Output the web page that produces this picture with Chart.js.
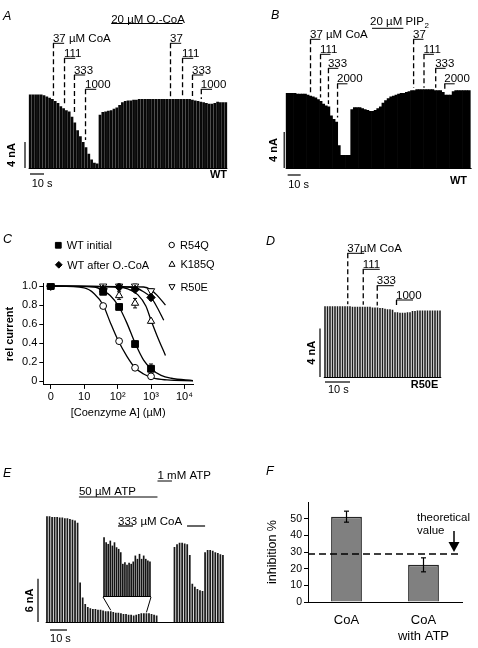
<!DOCTYPE html>
<html>
<head>
<meta charset="utf-8">
<title>CoA inhibition of KATP currents</title>
<script src="https://cdn.jsdelivr.net/npm/chart.js@4.4.1/dist/chart.umd.min.js"></script>
<style>
  body { margin: 0; background: #fff; }
  #fig { position: relative; width: 478px; height: 648px; overflow: hidden; background: #fff; }
  #fig canvas { position: absolute; left: 0; top: 0; }
</style>
</head>
<body>
<div id="fig">
  <canvas id="chartA" width="478" height="648"></canvas>
  <canvas id="chartB" width="478" height="648"></canvas>
  <canvas id="chartC" width="478" height="648"></canvas>
  <canvas id="chartD" width="478" height="648"></canvas>
  <canvas id="chartE" width="478" height="648"></canvas>
  <canvas id="chartEInset" width="478" height="648"></canvas>
  <canvas id="chartF" width="478" height="648"></canvas>
</div>
<script>
// ---------- data ----------

// A: WT, CoA doses before and during 20 µM O.-CoA (nA per sweep)
const sweepA = 2; // s between sweeps
const currentA = [11.3, 11.3, 11.3, 11.3, 11.3, 11.2, 11.0, 10.8, 10.6, 10.3,
  10.0, 9.5, 9.2, 8.9, 8.7, 7.9, 7.0, 5.8, 4.9, 4.0,
  3.2, 2.2, 1.3, 0.8, 0.7, 8.2, 8.6, 8.7, 8.8, 8.9,
  9.1, 9.3, 9.7, 10.1, 10.3, 10.4, 10.4, 10.5, 10.5, 10.6,
  10.6, 10.6, 10.6, 10.6, 10.6, 10.6, 10.6, 10.6, 10.6, 10.6,
  10.6, 10.6, 10.6, 10.6, 10.6, 10.6, 10.6, 10.6, 10.5, 10.4,
  10.3, 10.2, 10.1, 10.0, 9.9, 9.9, 10.0, 10.2, 10.1, 10.1, 10.1];
const doseLabelsA = ["37 µM CoA", "111", "333", "1000", "37", "111", "333", "1000"];
const doseTimesA = [16.4, 24.3, 31.4, 39.3, 100, 108.6, 115.7, 122];
const doseLenA = 8;
const oCoaTimesA = [58, 109];

// B: WT, CoA doses before and after 20 µM PIP2
const sweepB = 2;
const currentB = [8.3, 8.3, 8.3, 8.3, 8.2, 8.2, 8.2, 8.2, 8.1, 8.0,
  7.9, 7.8, 7.6, 7.4, 7.1, 6.9, 6.8, 5.8, 5.4, 5.1,
  2.5, 1.4, 1.4, 1.4, 1.4, 6.5, 6.7, 6.7, 6.7, 6.6,
  6.5, 6.4, 6.3, 6.3, 6.4, 6.6, 6.8, 7.2, 7.5, 7.7,
  7.9, 8.0, 8.1, 8.2, 8.3, 8.3, 8.4, 8.5, 8.6, 8.6,
  8.7, 8.7, 8.7, 8.7, 8.7, 8.7, 8.7, 8.6, 8.6, 8.6,
  8.4, 8.1, 8.1, 8.1, 8.5, 8.6, 8.6, 8.6, 8.6, 8.6, 8.6];
const doseLabelsB = ["37 µM CoA", "111", "333", "2000", "37", "111", "333", "2000"];
const doseTimesB = [17.7, 25.4, 31.5, 38.5, 97, 105, 114, 121];
const doseLenB = 8;
const pipTimesB = [65.4, 89.5];

// C: dose-response, "0" CoA is plotted on the "0" tick (1 on the log axis)
const concC = [1, 37, 111, 333, 1000];
const seriesNamesC = ["WT initial", "WT after O.-CoA", "R54Q", "K185Q", "R50E"];
const wtInitialC = [1.0, 0.94, 0.78, 0.39, 0.13];
const wtInitialErrC = [0, 0.02, 0.02, 0.03, 0.05];
const wtAfterC = [1.0, 0.97, 0.99, 0.965, 0.88];
const wtAfterErrC = [0, 0.02, 0.03, 0.02, 0.03];
const r54qC = [1.0, 0.79, 0.42, 0.14, 0.05];
const r54qErrC = [0, 0.01, 0.02, 0.02, 0.02];
const k185qC = [1.0, 0.96, 0.90, 0.82, 0.63];
const k185qErrC = [0, 0.02, 0.04, 0.05, 0.02];
const r50eC = [1.0, 1.0, 1.0, 1.0, 0.95];
const r50eErrC = [0, 0.01, 0.01, 0.02, 0.02];
// fitted curves
const fitWtInitialConc = [1, 20, 37, 60, 111, 190, 333, 600, 1000, 2000, 4000, 18000];
const fitWtInitialVal = [1.0, 0.99, 0.95, 0.90, 0.78, 0.61, 0.40, 0.22, 0.13, 0.06, 0.03, 0.005];
const fitR54QConc = [1, 10, 20, 37, 60, 100, 190, 333, 600, 1200, 3000, 18000];
const fitR54QVal = [1.0, 0.98, 0.92, 0.80, 0.62, 0.44, 0.26, 0.14, 0.075, 0.03, 0.012, 0.002];
const fitK185QConc = [1, 100, 200, 400, 700, 1000, 1500, 2700];
const fitK185QVal = [1.0, 0.99, 0.97, 0.91, 0.79, 0.64, 0.48, 0.27];
const fitWtAfterConc = [1, 300, 600, 1000, 1500, 2400];
const fitWtAfterVal = [1.0, 0.985, 0.94, 0.88, 0.78, 0.64];
const fitR50EConc = [1, 600, 1000, 1500, 2700];
const fitR50EVal = [1.0, 0.99, 0.96, 0.905, 0.80];
const xTickValsC = [1, 10, 100, 1000, 10000];
const xTickLabelsC = ["0", "10", "10²", "10³", "10⁴"];
const yTickValsC = [0, 0.2, 0.4, 0.6, 0.8, 1.0];
const yTickLabelsC = ["0", "0.2", "0.4", "0.6", "0.8", "1.0"];

// D: R50E
const sweepD = 1;
const currentD = [5.85, 5.85, 5.85, 5.85, 5.85, 5.85, 5.85, 5.85, 5.85, 5.85,
  5.85, 5.8, 5.8, 5.8, 5.8, 5.8, 5.8, 5.8, 5.8, 5.75,
  5.75, 5.75, 5.7, 5.7, 5.65, 5.6, 5.6, 5.55, 5.35, 5.35,
  5.3, 5.3, 5.3, 5.35, 5.35, 5.45, 5.45, 5.5, 5.5, 5.5,
  5.5, 5.5, 5.5, 5.5, 5.5, 5.5, 5.5];
const doseLabelsD = ["37µM CoA", "111", "333", "1000"];
const doseTimesD = [8.9, 15.1, 20.7, 28.4];
const doseLenD = 6.8;

// E: ATP then CoA
const sweepE = 1.5;
const currentE = [14.7, 14.7, 14.6, 14.6, 14.6, 14.5, 14.5, 14.4, 14.4, 14.3,
  14.2, 14.1, 13.8, 5.5, 3.4, 2.5, 2.1, 1.9, 1.8, 1.8,
  1.7, 1.7, 1.6, 1.5, 1.5, 1.5, 1.4, 1.3, 1.3, 1.2,
  1.1, 1.1, 1.0, 1.0, 0.9, 1.0, 1.1, 1.2, 1.2, 1.2,
  1.2, 1.1, 1.0, 0.9, 0, 0, 0, 0, 0, 0,
  10.4, 10.8, 11.0, 11.0, 10.9, 10.8, 9.3, 5.3, 4.9, 4.6,
  4.4, 4.3, 9.7, 10.0, 10.0, 9.9, 9.7, 9.6, 9.4, 9.3];
const atpLabelsE = ["50 µM ATP", "1 mM ATP"];
const atpStartE = [18.8, 65];
const atpEndE = [65, 73.5];
const coaStartE = [41.8, 82.4];
const coaEndE = [50.6, 93];
// magnified inset of the sweeps in ATP (arbitrary gain)
const insetStartE = 30;
const insetE = [1.77, 1.62, 1.57, 1.67, 1.52, 1.62, 1.47, 1.42, 1.32, 0.97,
  1.02, 0.94, 1.00, 0.97, 1.04, 1.22, 1.12, 1.27, 1.12, 1.22,
  1.12, 1.07, 1.04];
const insetLinkTimesE = [37.5, 58.5];

// F: inhibition %
const groupsF = [["CoA"], ["CoA", "with ATP"]];
const inhibitionF = [51.2, 22.3];
const inhibitionErrF = [3.3, 4.2];
const theoreticalF = 28.8;
const ticksF = [0, 10, 20, 30, 40, 50];

// ---------- helpers ----------
const FONT = '"Liberation Sans", Arial, Helvetica, sans-serif';
Chart.defaults.font.family = FONT;
Chart.defaults.font.size = 11;
Chart.defaults.color = '#000';

function font(size, weight, style) {
  return (style || '') + ' ' + (weight || '') + ' ' + size + 'px ' + FONT;
}

// padding that puts the chart area at page coords
function pad(left, top, right, bottom) {
  return { left: left, top: top, right: 478 - right, bottom: 648 - bottom };
}

function seg(ctx, x0, y0, x1, y1, dash, width) {
  ctx.save();
  ctx.setLineDash(dash || []);
  ctx.lineWidth = width || 1;
  ctx.strokeStyle = '#000';
  ctx.beginPath();
  ctx.moveTo(x0, y0);
  ctx.lineTo(x1, y1);
  ctx.stroke();
  ctx.restore();
}

function label(ctx, s, x, y, size, opts) {
  opts = opts || {};
  ctx.save();
  ctx.font = font(size, opts.weight, opts.style);
  ctx.fillStyle = '#000';
  ctx.textAlign = opts.align || 'left';
  ctx.textBaseline = opts.baseline || 'alphabetic';
  if (opts.rotate) {
    ctx.translate(x, y);
    ctx.rotate(opts.rotate);
    ctx.fillText(s, 0, 0);
  } else {
    ctx.fillText(s, x, y);
  }
  ctx.restore();
}

// baseline, scale bars and cell name of a current trace
function drawFrame(chart, f) {
  const { ctx, chartArea: a, scales: { x, y } } = chart;
  const y0 = y.getPixelForValue(0);
  seg(ctx, a.left, y0 + 0.5, a.right, y0 + 0.5, null, 1.2);
  const vx = a.left + f.vbarDx;
  const yTop = y.getPixelForValue(f.nA);
  seg(ctx, vx, y0, vx, yTop, null, 1.2);
  label(ctx, f.nA + ' nA', vx + f.nALabelDx, (y0 + yTop) / 2, 11,
    { rotate: -Math.PI / 2, align: 'center', baseline: 'middle', weight: 'bold' });
  const hx0 = x.getPixelForValue(f.hbarT);
  const hx1 = x.getPixelForValue(f.hbarT + 10);
  seg(ctx, hx0, y0 + f.hbarDy, hx1, y0 + f.hbarDy, null, 1.2);
  label(ctx, '10 s', hx0 + f.sLabelDx, y0 + f.sLabelDy, 11);
  if (f.name) label(ctx, f.name, a.right + f.nameDx, y0 + f.nameDy, 11, { align: 'right', weight: 'bold' });
}

// dose labels: short application bar + dashed drop to the trace
function drawDoses(chart, labels, times, levels, len, values, dt) {
  const { ctx, scales: { x, y } } = chart;
  labels.forEach((lab, i) => {
    const x0 = x.getPixelForValue(times[i]);
    const x1 = x.getPixelForValue(times[i] + len);
    const ly = levels[i % levels.length];
    seg(ctx, x0, ly, x1, ly, null, 1);
    label(ctx, lab, x0, ly - 1.5, 11.5);
    const k = Math.round(times[i] / dt);
    const top = Math.max(values[k - 1] || 0, values[k] || 0, values[k + 1] || 0);
    const yb = y.getPixelForValue(top) - 2;
    if (yb > ly + 3) seg(ctx, x0 + 0.5, ly, x0 + 0.5, yb, [5, 3], 1.3);
  });
}

function traceChart(id, o) {
  return new Chart(document.getElementById(id), {
    type: 'bar',
    data: {
      datasets: [{
        data: o.values.map((v, i) => ({ x: (o.t0 || 0) + i * o.dt, y: v })),
        backgroundColor: o.color,
        borderWidth: 0,
        barPercentage: o.barPct,
        categoryPercentage: 1
      }]
    },
    options: {
      responsive: false,
      animation: false,
      devicePixelRatio: 1,
      layout: { padding: o.padding },
      plugins: { legend: { display: false }, tooltip: { enabled: false } },
      scales: {
        x: { type: 'linear', min: o.xMin, max: o.xMax, offset: false, display: false },
        y: { min: 0, max: o.yMax, display: false }
      }
    },
    plugins: [o.plugin]
  });
}

// ---------- A ----------
traceChart('chartA', {
  values: currentA, dt: sweepA, xMin: -1, xMax: 141, yMax: 12,
  padding: pad(28.6, 90, 227.4, 168), color: '#080808', barPct: 0.97,
  plugin: {
    id: 'panelA',
    afterDraw(chart) {
      const { ctx, scales: { x } } = chart;
      label(ctx, 'A', 3, 20, 12.5, { style: 'italic' });
      drawFrame(chart, { nA: 4, vbarDx: -3.6, nALabelDx: -13, hbarT: 0, hbarDy: 6,
        sLabelDx: 1.7, sLabelDy: 19, name: 'WT', nameDx: -0.4, nameDy: 10 });
      const ox0 = x.getPixelForValue(oCoaTimesA[0]);
      const ox1 = x.getPixelForValue(oCoaTimesA[1]);
      seg(ctx, ox0, 23.5, ox1, 23.5, null, 1);
      label(ctx, '20 µM O.-CoA', ox0, 22.5, 11.5);
      drawDoses(chart, doseLabelsA, doseTimesA, [43.3, 58.3, 75, 89.3], doseLenA, currentA, sweepA);
    }
  }
});

// ---------- B ----------
traceChart('chartB', {
  values: currentB, dt: sweepB, xMin: -1, xMax: 142, yMax: 9.2,
  padding: pad(285.7, 85.2, 471.6, 168), color: '#000', barPct: 1,
  plugin: {
    id: 'panelB',
    afterDraw(chart) {
      const { ctx, scales: { x } } = chart;
      label(ctx, 'B', 271, 19, 12.5, { style: 'italic' });
      drawFrame(chart, { nA: 4, vbarDx: -1.5, nALabelDx: -10.5, hbarT: 0.5, hbarDy: 7,
        sLabelDx: 0.5, sLabelDy: 20, name: 'WT', nameDx: -4.6, nameDy: 16 });
      const px0 = x.getPixelForValue(pipTimesB[0]);
      const px1 = x.getPixelForValue(pipTimesB[1]);
      seg(ctx, px0, 28.3, px1, 28.3, null, 1);
      ctx.save();
      ctx.font = font(11.5);
      const w = ctx.measureText('20 µM PIP').width;
      ctx.restore();
      label(ctx, '20 µM PIP', px0 - 2, 25.3, 11.5);
      label(ctx, '2', px0 - 2 + w + 0.5, 28, 8);
      drawDoses(chart, doseLabelsB, doseTimesB, [39.3, 54.3, 68.3, 83.8], doseLenB, currentB, sweepB);
    }
  }
});

// ---------- C ----------
const seriesC = [wtInitialC, wtAfterC, r54qC, k185qC, r50eC];
const errC = [wtInitialErrC, wtAfterErrC, r54qErrC, k185qErrC, r50eErrC];
const styleC = [
  { pointStyle: 'rect', radius: 4.8, fill: '#000' },
  { pointStyle: 'rectRot', radius: 4.2, fill: '#000' },
  { pointStyle: 'circle', radius: 3.4, fill: '#fff' },
  { pointStyle: 'triangle', radius: 4.2, fill: '#fff', rotation: 0 },
  { pointStyle: 'triangle', radius: 4.2, fill: '#fff', rotation: 180 }
];

function pointSet(k) {
  const s = styleC[k];
  return {
    label: seriesNamesC[k],
    data: concC.map((c, i) => ({ x: c, y: seriesC[k][i] })),
    showLine: false,
    pointStyle: s.pointStyle,
    pointRadius: s.radius,
    pointRotation: s.rotation || 0,
    pointBackgroundColor: s.fill,
    pointBorderColor: '#000',
    pointBorderWidth: 1
  };
}

function curveSet(conc, vals) {
  return {
    data: conc.map((c, i) => ({ x: c, y: vals[i] })),
    borderColor: '#000',
    borderWidth: 1.3,
    pointRadius: 0,
    fill: false,
    cubicInterpolationMode: 'monotone'
  };
}

function legendMarker(ctx, k, x, y) {
  const s = styleC[k];
  const r = s.radius * 0.8;
  ctx.save();
  ctx.beginPath();
  if (s.pointStyle === 'rect') {
    ctx.rect(x - r * 0.75, y - r * 0.75, r * 1.5, r * 1.5);
  } else if (s.pointStyle === 'rectRot') {
    ctx.moveTo(x, y - r); ctx.lineTo(x + r, y); ctx.lineTo(x, y + r); ctx.lineTo(x - r, y);
    ctx.closePath();
  } else if (s.pointStyle === 'circle') {
    ctx.arc(x, y, r, 0, Math.PI * 2);
  } else {
    const d = s.rotation ? -1 : 1;
    ctx.moveTo(x, y - d * r); ctx.lineTo(x + r * 0.9, y + d * r * 0.6); ctx.lineTo(x - r * 0.9, y + d * r * 0.6);
    ctx.closePath();
  }
  ctx.fillStyle = s.fill;
  ctx.fill();
  ctx.lineWidth = 1;
  ctx.strokeStyle = '#000';
  ctx.stroke();
  ctx.restore();
}

new Chart(document.getElementById('chartC'), {
  type: 'line',
  data: {
    datasets: [
      pointSet(0), pointSet(1), pointSet(2), pointSet(3), pointSet(4),
      curveSet(fitWtInitialConc, fitWtInitialVal),
      curveSet(fitR54QConc, fitR54QVal),
      curveSet(fitK185QConc, fitK185QVal),
      curveSet(fitWtAfterConc, fitWtAfterVal),
      curveSet(fitR50EConc, fitR50EVal)
    ]
  },
  options: {
    responsive: false,
    animation: false,
    devicePixelRatio: 1,
    layout: { padding: { left: 3, top: 283.2, right: 285, bottom: 228.1 } },
    plugins: { legend: { display: false }, tooltip: { enabled: false } },
    scales: {
      x: {
        type: 'logarithmic', min: 0.63, max: 18000,
        afterBuildTicks: s => { s.ticks = xTickValsC.map(v => ({ value: v })); },
        afterFit: s => { s.height = 35; },
        ticks: { callback: (v, i) => xTickLabelsC[i], font: { size: 11 }, padding: 1, maxRotation: 0, autoSkip: false },
        grid: { drawOnChartArea: false, tickLength: 4, color: '#000' },
        border: { color: '#000', width: 1 },
        title: { display: true, text: '[Coenzyme A] (µM)', font: { size: 11 }, padding: 0 }
      },
      y: {
        min: -0.04, max: 1.03,
        afterBuildTicks: s => { s.ticks = yTickValsC.map(v => ({ value: v })); },
        afterFit: s => { s.width = 40.3; },
        ticks: { callback: (v, i) => yTickLabelsC[i], font: { size: 11 }, padding: 2 },
        grid: { drawOnChartArea: false, tickLength: 4, color: '#000' },
        border: { color: '#000', width: 1 },
        title: { display: true, text: 'rel current', font: { size: 11, weight: 'bold' }, padding: 0 }
      }
    }
  },
  plugins: [{
    id: 'panelC',
    beforeDatasetsDraw(chart) {
      const { ctx, scales: { y } } = chart;
      seriesC.forEach((vals, k) => {
        chart.getDatasetMeta(k).data.forEach((pt, i) => {
          const e = errC[k][i];
          if (!e) return;
          const hi = y.getPixelForValue(vals[i] + e);
          const lo = y.getPixelForValue(vals[i] - e);
          seg(ctx, pt.x, hi, pt.x, lo, null, 1);
          seg(ctx, pt.x - 2, hi, pt.x + 2, hi, null, 1);
          seg(ctx, pt.x - 2, lo, pt.x + 2, lo, null, 1);
        });
      });
    },
    afterDraw(chart) {
      const ctx = chart.ctx;
      label(ctx, 'C', 3, 243, 12.5, { style: 'italic' });
      const pos = [[58.3, 245.3], [58.8, 264.8], [171.7, 245], [172, 264.3], [172, 286.7]];
      seriesNamesC.forEach((name, k) => {
        legendMarker(ctx, k, pos[k][0], pos[k][1]);
        label(ctx, name, pos[k][0] + 8.4, pos[k][1] + 4, 11);
      });
    }
  }]
});

// ---------- D ----------
traceChart('chartD', {
  values: currentD, dt: sweepD, xMin: -0.5, xMax: 46.5, yMax: 6,
  padding: pad(323.75, 304.4, 441.25, 377), color: '#1a1a1a', barPct: 0.62,
  plugin: {
    id: 'panelD',
    afterDraw(chart) {
      const ctx = chart.ctx;
      label(ctx, 'D', 266, 245, 12.5, { style: 'italic' });
      drawFrame(chart, { nA: 4, vbarDx: -3.75, nALabelDx: -8.5, hbarT: 0, hbarDy: 5,
        sLabelDx: 3, sLabelDy: 16, name: 'R50E', nameDx: -3, nameDy: 11 });
      drawDoses(chart, doseLabelsD, doseTimesD, [253.3, 269.3, 285.7, 300], doseLenD, currentD, sweepD);
    }
  }
});

// ---------- E ----------
const chartE = traceChart('chartE', {
  values: currentE, dt: sweepE, xMin: -0.75, xMax: 104.25, yMax: 15,
  padding: pad(45.7, 514, 224.2, 622), color: '#1a1a1a', barPct: 0.68,
  plugin: {
    id: 'panelE',
    afterDraw(chart) {
      const { ctx, scales: { x } } = chart;
      label(ctx, 'E', 3, 477, 12.5, { style: 'italic' });
      drawFrame(chart, { nA: 6, vbarDx: -7.7, nALabelDx: -8, hbarT: 1.8, hbarDy: 8,
        sLabelDx: 0, sLabelDy: 20 });
      const atpY = [497, 481];
      atpLabelsE.forEach((lab, i) => {
        const x0 = x.getPixelForValue(atpStartE[i]);
        seg(ctx, x0, atpY[i], x.getPixelForValue(atpEndE[i]), atpY[i], null, 1);
        label(ctx, lab, x0, atpY[i] - 2, 11.5);
      });
      coaStartE.forEach((t, i) => {
        seg(ctx, x.getPixelForValue(t), 526, x.getPixelForValue(coaEndE[i]), 526, null, 1.2);
      });
      label(ctx, '333 µM CoA', x.getPixelForValue(coaStartE[0]), 524.5, 11.5);
    }
  }
});

traceChart('chartEInset', {
  values: insetE, dt: sweepE, t0: insetStartE, xMin: 29.25, xMax: 63.75, yMax: 1.9,
  padding: pad(103, 533, 151, 596), color: '#141414', barPct: 0.8,
  plugin: {
    id: 'insetE',
    afterDraw(chart) {
      const { ctx, chartArea: a, scales: { y } } = chart;
      const yb = y.getPixelForValue(0);
      seg(ctx, a.left, yb + 0.5, a.right, yb + 0.5, null, 1);
      const mx = chartE.scales.x, my = chartE.scales.y;
      [a.left, a.right].forEach((x0, i) => {
        const t = insetLinkTimesE[i];
        const v = currentE[Math.round(t / sweepE)];
        seg(ctx, x0, yb + 1, mx.getPixelForValue(t), my.getPixelForValue(v) - 1, null, 1);
      });
    }
  }
});

// ---------- F ----------
new Chart(document.getElementById('chartF'), {
  type: 'bar',
  data: {
    labels: groupsF,
    datasets: [{
      data: inhibitionF,
      backgroundColor: '#808080',
      borderColor: '#262626',
      borderWidth: 1.5,
      barPercentage: 0.8,
      categoryPercentage: 0.5
    }]
  },
  options: {
    responsive: false,
    animation: false,
    devicePixelRatio: 1,
    layout: { padding: { left: 265, top: 502, right: 16, bottom: 6 } },
    plugins: { legend: { display: false }, tooltip: { enabled: false } },
    scales: {
      x: {
        afterFit: s => { s.height = 40; },
        grid: { display: false },
        border: { color: '#000', width: 1 },
        ticks: { font: { size: 13 }, padding: 3, maxRotation: 0 }
      },
      y: {
        min: 0, max: 60,
        afterBuildTicks: s => { s.ticks = ticksF.map(v => ({ value: v })); },
        afterFit: s => { s.width = 43; },
        ticks: { font: { size: 10.5 }, padding: 2 },
        grid: { drawOnChartArea: false, tickLength: 4, color: '#000' },
        border: { color: '#000', width: 1 },
        title: { display: true, text: 'inhibition %', font: { size: 12.5 }, padding: 0 }
      }
    }
  },
  plugins: [{
    id: 'panelF',
    afterDatasetsDraw(chart) {
      const { ctx, chartArea: a, scales: { y } } = chart;
      label(ctx, 'F', 266, 475, 12.5, { style: 'italic' });
      chart.getDatasetMeta(0).data.forEach((bar, i) => {
        const hi = y.getPixelForValue(inhibitionF[i] + inhibitionErrF[i]);
        const lo = y.getPixelForValue(inhibitionF[i] - inhibitionErrF[i]);
        seg(ctx, bar.x, hi, bar.x, lo, null, 1.2);
        seg(ctx, bar.x - 2.5, hi, bar.x + 2.5, hi, null, 1.2);
        seg(ctx, bar.x - 2.5, lo, bar.x + 2.5, lo, null, 1.2);
      });
      const yt = y.getPixelForValue(theoreticalF);
      seg(ctx, a.left, yt, a.right - 4, yt, [7, 4], 1.5);
      const ax = a.right - 8, tip = yt - 2;
      seg(ctx, ax, tip - 21, ax, tip - 9, null, 1.5);
      ctx.save();
      ctx.beginPath();
      ctx.moveTo(ax - 5.5, tip - 10);
      ctx.lineTo(ax + 5.5, tip - 10);
      ctx.lineTo(ax, tip);
      ctx.closePath();
      ctx.fillStyle = '#000';
      ctx.fill();
      ctx.restore();
      label(ctx, 'theoretical', a.right - 45, tip - 31, 11.5);
      label(ctx, 'value', a.right - 45, tip - 18, 11.5);
    }
  }]
});
</script>
</body>
</html>
